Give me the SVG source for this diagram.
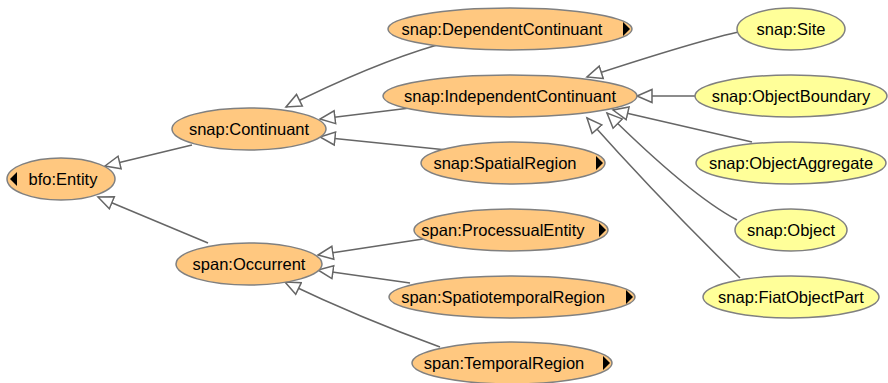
<svg xmlns="http://www.w3.org/2000/svg" width="888" height="383" viewBox="0 0 888 383">
<style>
.o{fill:#ffc880;stroke:#808080;stroke-width:1.5}
.y{fill:#ffff99;stroke:#808080;stroke-width:1.5}
.t{font-family:"Liberation Sans",Arial,sans-serif;font-size:16.5px;fill:#000;text-anchor:middle;dominant-baseline:central}
.e{fill:none;stroke:#666;stroke-width:1.5;marker-end:url(#h)}
.k{fill:#000}
</style>
<defs>
<marker id="h" markerUnits="userSpaceOnUse" markerWidth="19" markerHeight="17" refX="16" refY="8" orient="auto" viewBox="0 0 19 17">
<path d="M1,1.5 L16,8 L1,14.5 Z" fill="#fff" stroke="#666" stroke-width="1.5"/>
</marker>
</defs>
<g id="connectors">
<path class="e" d="M192,145 L105,166"/>
<path class="e" d="M208,243 L98,197"/>
<path class="e" d="M437,45 Q372,64 286,107"/>
<path class="e" d="M410,108 L320,119"/>
<path class="e" d="M447,150 L320,137"/>
<path class="e" d="M423,239 L318,255"/>
<path class="e" d="M410,283 L318,270"/>
<path class="e" d="M440,347 Q360,318 285,282"/>
<path class="e" d="M743,31 Q700,40 587,77"/>
<path class="e" d="M695,96 L637,96"/>
<path class="e" d="M752,142 L613,110"/>
<path class="e" d="M737,220 Q690,195 607,113"/>
<path class="e" d="M740,278 Q660,200 587,118"/>
</g>
<g id="bfo-Entity"><ellipse class="o" cx="61" cy="179" rx="54" ry="21"/><path class="k" d="M17,172 L10,179 L17,186 Z"/><text class="t" x="63" y="179">bfo:Entity</text></g>
<g id="snap-Continuant"><ellipse class="o" cx="249" cy="129" rx="77" ry="21"/><text class="t" x="249" y="129">snap:Continuant</text></g>
<g id="span-Occurrent"><ellipse class="o" cx="249" cy="264" rx="73" ry="21"/><text class="t" x="249" y="264">span:Occurrent</text></g>
<g id="snap-DependentContinuant"><ellipse class="o" cx="510" cy="29" rx="122" ry="21"/><path class="k" d="M623,22 L630,29 L623,36 Z"/><text class="t" x="502" y="29">snap:DependentContinuant</text></g>
<g id="snap-IndependentContinuant"><ellipse class="o" cx="510" cy="96" rx="127" ry="21"/><text class="t" x="510" y="96">snap:IndependentContinuant</text></g>
<g id="snap-SpatialRegion"><ellipse class="o" cx="513" cy="163" rx="92" ry="21"/><path class="k" d="M596,156 L603,163 L596,170 Z"/><text class="t" x="505" y="163">snap:SpatialRegion</text></g>
<g id="span-ProcessualEntity"><ellipse class="o" cx="511" cy="230" rx="97" ry="21"/><path class="k" d="M599,223 L606,230 L599,237 Z"/><text class="t" x="503" y="230">span:ProcessualEntity</text></g>
<g id="span-SpatiotemporalRegion"><ellipse class="o" cx="512" cy="297" rx="123" ry="21"/><path class="k" d="M626,290 L633,297 L626,304 Z"/><text class="t" x="503" y="297">span:SpatiotemporalRegion</text></g>
<g id="span-TemporalRegion"><ellipse class="o" cx="512" cy="363" rx="100" ry="21"/><path class="k" d="M603,356 L610,363 L603,370 Z"/><text class="t" x="504" y="363">span:TemporalRegion</text></g>
<g id="snap-Site"><ellipse class="y" cx="791" cy="29" rx="54" ry="21"/><text class="t" x="791" y="29">snap:Site</text></g>
<g id="snap-ObjectBoundary"><ellipse class="y" cx="791" cy="96" rx="96" ry="21"/><text class="t" x="791" y="96">snap:ObjectBoundary</text></g>
<g id="snap-ObjectAggregate"><ellipse class="y" cx="791" cy="163" rx="95" ry="21"/><text class="t" x="791" y="163">snap:ObjectAggregate</text></g>
<g id="snap-Object"><ellipse class="y" cx="791" cy="230" rx="56" ry="21"/><text class="t" x="791" y="230">snap:Object</text></g>
<g id="snap-FiatObjectPart"><ellipse class="y" cx="791" cy="297" rx="88" ry="21"/><text class="t" x="791" y="297">snap:FiatObjectPart</text></g>
</svg>
